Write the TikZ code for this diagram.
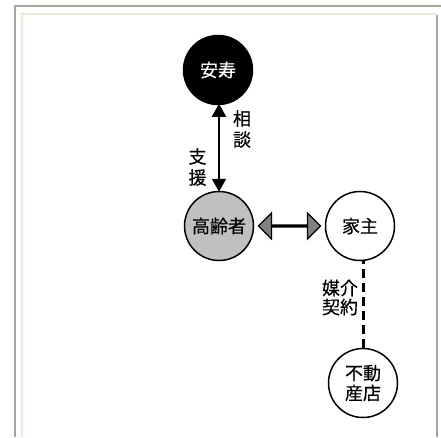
\documentclass[tikz,border=0pt]{standalone}
\usepackage{fontspec}
\newfontfamily\cjk[FakeBold=0.35]{Noto Sans CJK JP}
\usetikzlibrary{arrows.meta,shapes.arrows,calc}
\definecolor{framegray}{HTML}{A6A498}
\definecolor{framebeige}{HTML}{ECE9D6}
\definecolor{oldfill}{HTML}{C0C0C0}
\definecolor{arrowfill}{HTML}{808080}
\tikzset{
  party/.style={circle, draw=black, line width=1.5pt, minimum size=69pt, inner sep=0pt,
    font=\cjk\fontsize{18}{20}\selectfont, align=center},
  lbl/.style={font=\cjk\fontsize{18}{21}\selectfont, align=center, inner sep=0pt},
  link/.style={line width=2pt, {Triangle[length=13pt,width=14pt]}-{Triangle[length=13pt,width=14pt]}},
  contract/.style={line width=3pt, dash pattern=on 9pt off 5pt},
  wide/.style={double arrow, draw=black, line width=1.3pt, fill=arrowfill,
    minimum width=26pt, double arrow head extend=9pt, double arrow tip angle=90,
    minimum height=62pt, inner sep=0pt}
}
\begin{document}
\begin{tikzpicture}[x=1pt,y=-1pt]
\useasboundingbox (0,0) rectangle (441,437);
\fill[white] (0,0) rectangle (441,437);
% frame
\draw[framegray, line width=2pt] (15,437) -- (15,6) -- (441,6);
\draw[framebeige, line width=2pt] (22,437) -- (22,14) -- (437,14);
\draw[framegray, line width=2pt] (437,15) -- (437,437);
% nodes
\node[party, fill=black, text=white] (anju) at (218,70) {安寿};
\node[party, fill=oldfill] (old) at (219,226) {高齢者};
\node[party, fill=white] (owner) at (360,226) {家主};
\node[party, fill=white] (realtor) at (363,383) {不動\\産店};
% connectors
\draw[link] ([yshift=1.5pt]anju.south -| old) -- ([yshift=-1pt]old.north);
\node[wide] (pair) at ($(old.east)!0.5!(owner.west)$) {};
\draw[contract] (realtor.north) -- (realtor.north |- owner.south);
% labels
\node[lbl] (soudan) at (242,129) {相\\談};
\node[lbl] (shien) at (197.5,167) {支\\援};
\node[lbl, font=\cjk\fontsize{18}{19}\selectfont] (baikai) at (340,297.5) {媒介\\契約};
\end{tikzpicture}
\end{document}
